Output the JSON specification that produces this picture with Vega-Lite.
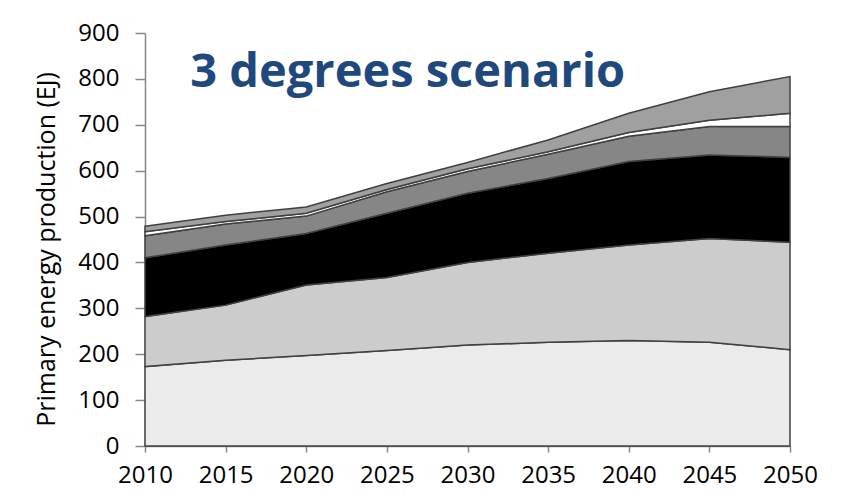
{
  "$schema": "https://vega.github.io/schema/vega-lite/v6.json",
  "width": 645,
  "height": 413,
  "autosize": {"type": "none"},
  "padding": {"left": 145, "top": 33, "right": 62, "bottom": 56},
  "background": "#ffffff",
  "layer": [
    {
      "data": {
        "values": [
          {"year": 2010, "series": "Layer 1", "k": 1, "value": 173},
          {"year": 2010, "series": "Layer 2", "k": 2, "value": 109},
          {"year": 2010, "series": "Layer 3", "k": 3, "value": 128},
          {"year": 2010, "series": "Layer 4", "k": 4, "value": 48},
          {"year": 2010, "series": "Layer 5", "k": 5, "value": 9},
          {"year": 2010, "series": "Layer 6", "k": 6, "value": 12},
          {"year": 2015, "series": "Layer 1", "k": 1, "value": 187},
          {"year": 2015, "series": "Layer 2", "k": 2, "value": 120},
          {"year": 2015, "series": "Layer 3", "k": 3, "value": 131},
          {"year": 2015, "series": "Layer 4", "k": 4, "value": 46},
          {"year": 2015, "series": "Layer 5", "k": 5, "value": 5},
          {"year": 2015, "series": "Layer 6", "k": 6, "value": 14},
          {"year": 2020, "series": "Layer 1", "k": 1, "value": 197},
          {"year": 2020, "series": "Layer 2", "k": 2, "value": 154},
          {"year": 2020, "series": "Layer 3", "k": 3, "value": 112},
          {"year": 2020, "series": "Layer 4", "k": 4, "value": 38},
          {"year": 2020, "series": "Layer 5", "k": 5, "value": 6},
          {"year": 2020, "series": "Layer 6", "k": 6, "value": 14},
          {"year": 2025, "series": "Layer 1", "k": 1, "value": 208},
          {"year": 2025, "series": "Layer 2", "k": 2, "value": 159},
          {"year": 2025, "series": "Layer 3", "k": 3, "value": 140},
          {"year": 2025, "series": "Layer 4", "k": 4, "value": 47},
          {"year": 2025, "series": "Layer 5", "k": 5, "value": 5},
          {"year": 2025, "series": "Layer 6", "k": 6, "value": 13},
          {"year": 2030, "series": "Layer 1", "k": 1, "value": 220},
          {"year": 2030, "series": "Layer 2", "k": 2, "value": 180},
          {"year": 2030, "series": "Layer 3", "k": 3, "value": 151},
          {"year": 2030, "series": "Layer 4", "k": 4, "value": 47},
          {"year": 2030, "series": "Layer 5", "k": 5, "value": 6},
          {"year": 2030, "series": "Layer 6", "k": 6, "value": 14},
          {"year": 2035, "series": "Layer 1", "k": 1, "value": 226},
          {"year": 2035, "series": "Layer 2", "k": 2, "value": 194},
          {"year": 2035, "series": "Layer 3", "k": 3, "value": 163},
          {"year": 2035, "series": "Layer 4", "k": 4, "value": 53},
          {"year": 2035, "series": "Layer 5", "k": 5, "value": 5},
          {"year": 2035, "series": "Layer 6", "k": 6, "value": 26},
          {"year": 2040, "series": "Layer 1", "k": 1, "value": 230},
          {"year": 2040, "series": "Layer 2", "k": 2, "value": 208},
          {"year": 2040, "series": "Layer 3", "k": 3, "value": 182},
          {"year": 2040, "series": "Layer 4", "k": 4, "value": 55},
          {"year": 2040, "series": "Layer 5", "k": 5, "value": 8},
          {"year": 2040, "series": "Layer 6", "k": 6, "value": 42},
          {"year": 2045, "series": "Layer 1", "k": 1, "value": 226},
          {"year": 2045, "series": "Layer 2", "k": 2, "value": 226},
          {"year": 2045, "series": "Layer 3", "k": 3, "value": 182},
          {"year": 2045, "series": "Layer 4", "k": 4, "value": 62},
          {"year": 2045, "series": "Layer 5", "k": 5, "value": 14},
          {"year": 2045, "series": "Layer 6", "k": 6, "value": 62},
          {"year": 2050, "series": "Layer 1", "k": 1, "value": 210},
          {"year": 2050, "series": "Layer 2", "k": 2, "value": 234},
          {"year": 2050, "series": "Layer 3", "k": 3, "value": 185},
          {"year": 2050, "series": "Layer 4", "k": 4, "value": 67},
          {"year": 2050, "series": "Layer 5", "k": 5, "value": 29},
          {"year": 2050, "series": "Layer 6", "k": 6, "value": 80}
        ]
      },
      "mark": {"type": "area", "stroke": "#404040", "strokeWidth": 1.5, "opacity": 1, "fillOpacity": 1},
      "encoding": {
        "x": {
          "field": "year",
          "type": "quantitative",
          "scale": {"domain": [2010, 2050], "nice": false, "zero": false},
          "axis": {
            "title": null,
            "values": [2010, 2015, 2020, 2025, 2030, 2035, 2040, 2045, 2050],
            "format": "d",
            "grid": false,
            "domainColor": "#868686",
            "domainWidth": 1.5,
            "tickColor": "#868686",
            "tickWidth": 1.5,
            "tickSize": 6,
            "labelFont": "Open Sans",
            "labelFontSize": 24,
            "labelColor": "#000000",
            "labelPadding": 11,
            "labelFlush": false
          }
        },
        "y": {
          "field": "value",
          "type": "quantitative",
          "aggregate": "sum",
          "stack": "zero",
          "scale": {"domain": [0, 900], "nice": false},
          "axis": {
            "title": "Primary energy production (EJ)",
            "titleFont": "Open Sans",
            "titleFontSize": 25,
            "titleFontWeight": "normal",
            "titleColor": "#000000",
            "titleAngle": -90,
            "titleBaseline": "alphabetic",
            "titleAnchor": "middle",
            "titleX": -91,
            "titleY": 216,
            "values": [0, 100, 200, 300, 400, 500, 600, 700, 800, 900],
            "grid": false,
            "domainColor": "#868686",
            "domainWidth": 1.5,
            "tickColor": "#868686",
            "tickWidth": 1.5,
            "tickSize": 10,
            "labelFont": "Open Sans",
            "labelFontSize": 24,
            "labelColor": "#000000",
            "labelPadding": 16
          }
        },
        "color": {
          "field": "series",
          "type": "nominal",
          "scale": {
            "domain": ["Layer 1", "Layer 2", "Layer 3", "Layer 4", "Layer 5", "Layer 6"],
            "range": ["#ebebeb", "#cccccc", "#000000", "#868686", "#ffffff", "#a0a0a0"]
          },
          "legend": null
        },
        "order": {"field": "k", "type": "quantitative", "sort": "ascending"}
      }
    },
    {
      "data": {"values": [{"label": "3 degrees scenario"}]},
      "mark": {
        "type": "text",
        "font": "Open Sans",
        "fontSize": 47,
        "fontWeight": "bold",
        "color": "#1F497D",
        "align": "left",
        "baseline": "alphabetic"
      },
      "encoding": {
        "text": {"field": "label", "type": "nominal"},
        "x": {"datum": 2012.8, "type": "quantitative"},
        "y": {"datum": 782, "type": "quantitative"}
      }
    }
  ],
  "config": {
    "view": {"stroke": null}
  }
}
